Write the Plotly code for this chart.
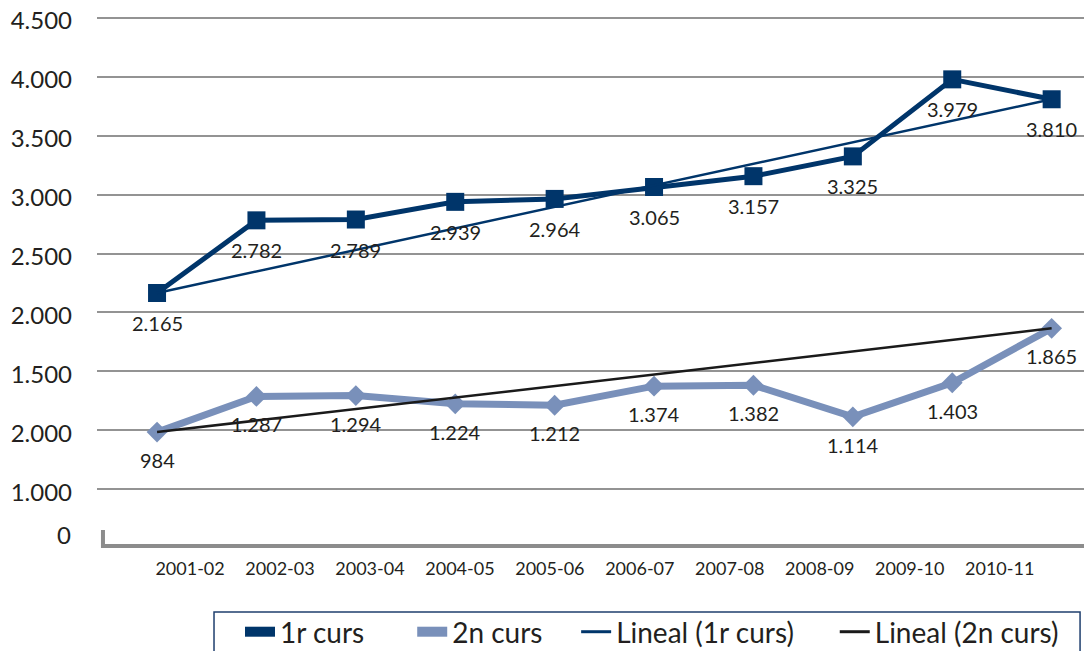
import plotly.graph_objects as go

categories = ["2001-02", "2002-03", "2003-04", "2004-05", "2005-06",
              "2006-07", "2007-08", "2008-09", "2009-10", "2010-11"]
curs1 = [2165, 2782, 2789, 2939, 2964, 3065, 3157, 3325, 3979, 3810]
curs2 = [984, 1287, 1294, 1224, 1212, 1374, 1382, 1114, 1403, 1865]
labels1 = ["2.165", "2.782", "2.789", "2.939", "2.964", "3.065", "3.157", "3.325", "3.979", "3.810"]
labels2 = ["984", "1.287", "1.294", "1.224", "1.212", "1.374", "1.382", "1.114", "1.403", "1.865"]
ytick_vals = [500, 1000, 1500, 2000, 2500, 3000, 3500, 4000, 4500]
ytick_text = ["1.000", "2.000", "1.500", "2.000", "2.500", "3.000", "3.500", "4.000", "4.500"]
legend_names = ["1r curs", "2n curs", "Lineal (1r curs)", "Lineal (2n curs)"]

NAVY = "#00356a"
LIGHT = "#7990ba"
DARK = "#1a1a1a"
TXT = "#231f20"
FONT = "Lato"
NB = "\u00a0"
legend_pads = [6, 4, 5, 0]

idx = list(range(len(categories)))
fig = go.Figure()

# main series
fig.add_trace(go.Scatter(x=idx, y=curs2, mode="lines+markers", name="2n curs",
                         line=dict(color=LIGHT, width=7),
                         marker=dict(symbol="diamond", size=16, color=LIGHT),
                         showlegend=False, hoverinfo="skip"))
fig.add_trace(go.Scatter(x=idx, y=curs1, mode="lines+markers", name="1r curs",
                         line=dict(color=NAVY, width=5),
                         marker=dict(symbol="square", size=18, color=NAVY),
                         showlegend=False, hoverinfo="skip"))
# "Lineal" lines (first to last point)
fig.add_trace(go.Scatter(x=[idx[0], idx[-1]], y=[curs1[0], curs1[-1]], mode="lines",
                         line=dict(color=NAVY, width=2.5), showlegend=False, hoverinfo="skip"))
fig.add_trace(go.Scatter(x=[idx[0], idx[-1]], y=[curs2[0], curs2[-1]], mode="lines",
                         line=dict(color=DARK, width=2.5), showlegend=False, hoverinfo="skip"))

# legend entries
legend_styles = [dict(color=NAVY, width=13), dict(color=LIGHT, width=13),
                 dict(color=NAVY, width=3), dict(color=DARK, width=3)]
for nm, st, p in zip(legend_names, legend_styles, legend_pads):
    fig.add_trace(go.Scatter(x=[None], y=[None], mode="lines", name=nm + NB * p, line=st))

annotations = []
for i, (v, t) in enumerate(zip(curs1, labels1)):
    annotations.append(dict(x=i, y=v, text=t, showarrow=False, yshift=-30,
                            font=dict(family=FONT, size=20, color=TXT)))
for i, (v, t) in enumerate(zip(curs2, labels2)):
    annotations.append(dict(x=i, y=v, text=t, showarrow=False, yshift=-28,
                            font=dict(family=FONT, size=20, color=TXT)))
annotations.append(dict(xref="paper", yref="paper", x=-0.0241, y=0.0299, text="0",
                        showarrow=False, xanchor="right", yanchor="middle",
                        font=dict(family=FONT, size=24, color=TXT)))

shapes = [
    dict(type="path", xref="paper", yref="paper",
         path="M 0.006 0.039 L 0.006 0.0093 L 1 0.0093",
         line=dict(color="#8c8c8c", width=4)),
    # legend frame
    dict(type="rect", xref="paper", yref="paper", x0=0.1176, x1=0.988, y0=-0.1138, y1=-0.3,
         line=dict(color="#1f3f6e", width=1.5), fillcolor="rgba(0,0,0,0)"),
]

tick_step = 0.905
tick_offset = 0.332
fig.update_layout(
    template="none",
    width=1084, height=643,
    margin=dict(l=89, r=0, t=7, b=100, autoexpand=False),
    paper_bgcolor="white", plot_bgcolor="white",
    font=dict(family=FONT, color=TXT),
    xaxis=dict(range=[-0.604, 9.406], showgrid=False, zeroline=False, showline=False,
               automargin=False,
               tickvals=[tick_offset + tick_step * i for i in idx], ticktext=categories,
               tickfont=dict(family=FONT, size=18, color=TXT), ticks="",
               ticklabelstandoff=5),
    yaxis=dict(range=[-25.5, 4525.5], tickvals=ytick_vals, ticktext=ytick_text,
               automargin=False, ticklabeloverflow="allow",
               showgrid=True, gridcolor="#939393", gridwidth=2, zeroline=False,
               showline=False, ticks="", ticklabelstandoff=24, ticklabelshift=3,
               tickfont=dict(family=FONT, size=24, color=TXT)),
    legend=dict(orientation="h", x=0.1437, y=-0.1045, xanchor="left", yanchor="top",
                borderwidth=0, bgcolor="rgba(0,0,0,0)",
                font=dict(family=FONT, size=28, color=TXT), itemwidth=30,
                traceorder="normal"),
    annotations=annotations,
    shapes=shapes,
)

fig.write_html("out.html")
